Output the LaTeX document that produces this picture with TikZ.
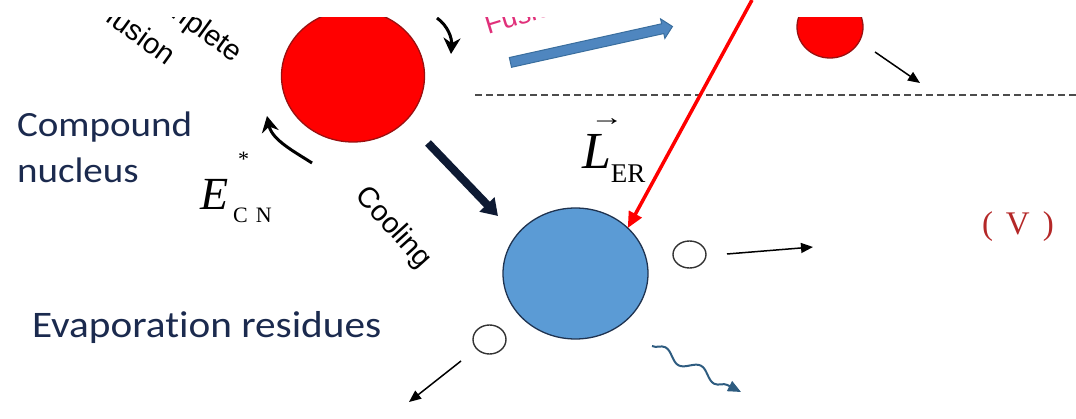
\documentclass[tikz,border=0pt]{standalone}
\usepackage{fontspec}
\setmainfont{Liberation Serif}
\setsansfont{Liberation Sans}
\newfontfamily\calibri[FakeStretch=1.1, Ligatures=NoCommon, RawFeature=-liga]{Carlito}
\usepackage{xcolor}
\usepackage{tikz}
\usetikzlibrary{arrows.meta, shapes.geometric, shapes.arrows, decorations.pathmorphing}

\definecolor{cnred}{HTML}{FF0000}
\definecolor{cnedge}{HTML}{9A1010}
\definecolor{erblue}{HTML}{5B9BD5}
\definecolor{eredge}{HTML}{1F3350}
\definecolor{navytext}{HTML}{1B2A4E}
\definecolor{coolnavy}{HTML}{0E1A33}
\definecolor{fusblue}{HTML}{4F86BF}
\definecolor{fusedge}{HTML}{3A6E9E}
\definecolor{fuspink}{HTML}{E0307A}
\definecolor{panelred}{HTML}{B42828}
\definecolor{gammablue}{HTML}{2E5C80}

\begin{document}
\begin{tikzpicture}[x=1pt, y=-1pt, every node/.style={inner sep=0pt, outer sep=0pt},
    nucleus/.style={ellipse, draw, line width=1.3pt},
    light/.style={ellipse, draw=black!80, line width=1.4pt, fill=white},
    emit/.style={line width=1.5pt, -{Triangle[length=12pt, width=10pt]}},
    turn/.style={line width=3pt, -{Stealth[length=16pt, width=17pt]}},
    sanslabel/.style={font=\sffamily\fontsize{29}{30}\selectfont}]
    \useasboundingbox (0,0) rectangle (1076,419);
    \begin{scope}
    \clip (0,18) rectangle (1076,419);
    \node[nucleus, draw=cnedge, fill=cnred, minimum width=143pt, minimum height=132pt] (CN) at (353,76) {};
    \node[nucleus, draw=cnedge, fill=cnred, minimum width=66pt, minimum height=62pt] (FF) at (830,27) {};
    \node[nucleus, draw=eredge, fill=erblue, minimum width=145pt, minimum height=131pt] (ER) at (575.5,273.5) {};
    \node[light, minimum width=33pt, minimum height=27pt] (P1) at (689.5,254.5) {};
    \node[light, minimum width=33pt, minimum height=29pt] (P2) at (489.5,339.5) {};
    \node[single arrow, draw=fusedge, fill=fusblue, line width=1pt, minimum height=166pt, minimum width=19pt,
        inner ysep=4.5pt, single arrow head extend=5pt, rotate=12.5] (FA) at (589,45) {};

    \node[sanslabel, rotate=-36, anchor=base east] (CF1) at (234,63) {Complete};
    \node[sanslabel, rotate=-36, anchor=base east] (CF2) at (167,66) {fusion};
    \node[sanslabel, rotate=17, anchor=base west, text=fuspink, font=\sffamily\fontsize{28}{30}\selectfont] (FUS) at (488,35) {Fusion};
    \node[sanslabel, rotate=-48] (COOL) at (393,228) {Cooling};
    \node[anchor=base west, align=left, font=\calibri\fontsize{35.5}{46}\selectfont, text=navytext] (CNT) at (17,183) {Compound\\nucleus};
    \node[anchor=base west, font=\calibri\fontsize{37.5}{40}\selectfont, text=navytext] (ERT) at (32,338) {Evaporation residues};
    \node[anchor=base west, font=\fontsize{46}{50}\selectfont] (ECN) at (200,210)
        {\textit{E}\kern5pt\rlap{\kern5pt\raisebox{43pt}{\fontsize{22}{22}\selectfont *}}\raisebox{-13pt}{\fontsize{22}{22}\selectfont C\kern8pt N}};
    \node[anchor=base west, font=\fontsize{52}{56}\selectfont] (LER) at (582,169)
        {\rlap{\kern8pt\raisebox{43pt}{\fontsize{24}{24}\selectfont\scalebox{1.4}[1]{→}}}\textit{L}\raisebox{-14pt}{\fontsize{27}{27}\selectfont ER}};
    \node[anchor=base west, font=\fontsize{33}{36}\selectfont, text=panelred] (V) at (982,235) {{\spaceskip=13pt\relax ( V )}};

    \coordinate (T1) at (437,18);
    \coordinate (T2) at (451,54);
    \coordinate (B1) at (312,163);
    \coordinate (B2) at (267,116);
    \coordinate (C1) at (428,143);
    \coordinate (C2) at (498,216);
    \coordinate (A1) at (727,254);
    \coordinate (A2) at (813,247);
    \coordinate (A3) at (461,361);
    \coordinate (A4) at (409,402);
    \coordinate (A5) at (875,52);
    \coordinate (A6) at (920,83);
    \coordinate (G1) at (652,346);
    \coordinate (G2) at (741,392);
    \coordinate (D1) at (475,95);
    \coordinate (D2) at (1076,95);

    \draw[turn] (T1) .. controls (448,26) and (452,38) .. (T2);
    \draw[turn] (B1) .. controls (295,152) and (272,140) .. (B2);
    \draw[coolnavy, line width=8pt, -{Triangle[length=16pt, width=20pt]}] (C1) -- (C2);
    \draw[emit] (A1) -- (A2);
    \draw[emit] (A3) -- (A4);
    \draw[emit] (A5) -- (A6);
    \draw[gammablue, line width=2pt, decorate, decoration={snake, amplitude=5pt, segment length=40pt, post length=14pt},
        -{Triangle[length=13pt, width=11pt]}] (G1) -- (G2);
    \draw[black!70, line width=1.8pt, dash pattern=on 7pt off 4pt] (D1) -- (D2);
    \end{scope}
    \coordinate (R1) at (752,0);
    \draw[red, line width=3.5pt, -{Triangle[length=16pt, width=14pt]}] (R1) -- (ER.41);
\end{tikzpicture}
\end{document}
